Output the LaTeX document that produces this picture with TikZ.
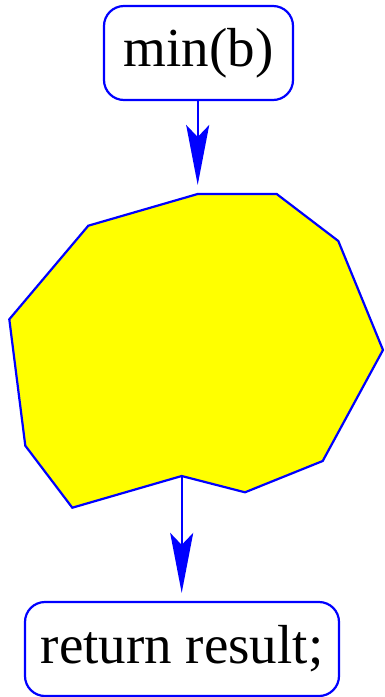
\documentclass[tikz,border=0pt]{standalone}
\usepackage{fontspec}
\setmainfont{Liberation Serif}
\usetikzlibrary{arrows.meta}
\definecolor{pblue}{RGB}{0,0,255}
\definecolor{pyellow}{RGB}{255,255,0}
\begin{document}
\begin{tikzpicture}[x=1pt,y=-1pt,
  term/.style={draw=pblue, line width=2.2pt, rounded corners=20pt, fill=white,
    inner sep=0pt, font=\fontsize{55}{60}\selectfont},
  conn/.style={draw=pblue, fill=pblue, line width=2.2pt, -{Stealth[length=60pt,width=23pt,inset=12pt]}},
  blob/.style={draw=pblue, line width=2.2pt, fill=pyellow, line join=miter}]
\useasboundingbox (0,0) rectangle (384,697);
\node[term, minimum width=189pt, minimum height=94pt] (top) at (198.5,53) {min(b)};
\node[term, minimum width=314pt, minimum height=94pt] (bot) at (182,649) {return result;};
\coordinate (p1) at (197.7,194);
\coordinate (p2) at (276.7,194);
\coordinate (p3) at (338.3,241);
\coordinate (p4) at (383,350);
\coordinate (p5) at (322.7,461);
\coordinate (p6) at (245,492.3);
\coordinate (p7) at (181.7,476);
\coordinate (p8) at (72.3,507.7);
\coordinate (p9) at (25.3,445.7);
\coordinate (p10) at (9.3,319.3);
\coordinate (p11) at (88.3,225.7);
\path[blob] (p1) -- (p2) -- (p3) -- (p4) -- (p5) -- (p6) -- (p7) -- (p8) -- (p9) -- (p10) -- (p11) -- cycle;
\coordinate (tipA) at (197.7,185);
\draw[conn] (top.south -| tipA) -- (tipA);
\draw[conn, shorten >=8pt] (p7) -- (p7 |- bot.north);
\end{tikzpicture}
\end{document}
